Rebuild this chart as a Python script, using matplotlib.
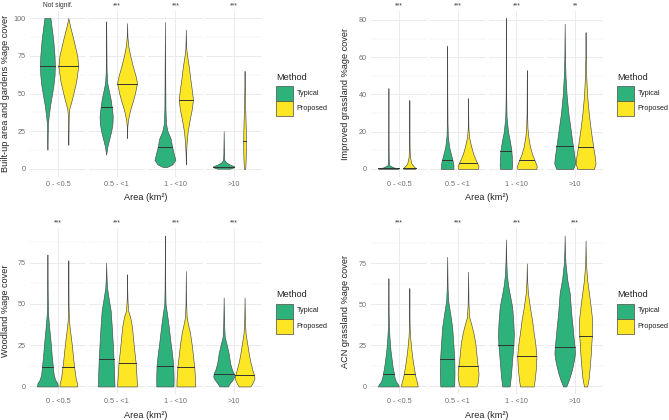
import matplotlib
matplotlib.use("Agg")
import matplotlib.pyplot as plt
from matplotlib.patches import Rectangle
import numpy as np

plt.rcParams["font.family"] = ["Liberation Sans", "DejaVu Sans"]

# ── Data ─────────────────────────────────────────────────────────────────────
AREA_CLASSES = ["0 - <0.5", "0.5 - <1", "1 - <10", ">10"]
METHODS = ["Typical", "Proposed"]

# violin outlines: (%cover, relative half-width) per area class
BUILT_TYP = [
    [(12.8, 0), (20, 0.02), (30, 0.05), (35, 0.12), (42, 0.25), (50, 0.45), (55, 0.57),
     (62, 0.68), (68, 0.71), (75, 0.68), (86, 0.55), (95, 0.38), (100, 0.29)],
    [(9.5, 0), (15, 0.12), (20, 0.3), (25, 0.48), (30, 0.6), (35, 0.63), (40, 0.55),
     (46, 0.43), (52, 0.25), (57, 0.1), (65, 0.04), (80, 0.02), (97.8, 0)],
    [(1.3, 0.2), (3, 0.7), (6, 1.0), (10, 0.85), (15, 0.68), (20, 0.55), (25, 0.25),
     (30, 0.1), (40, 0.05), (60, 0.03), (97.4, 0)],
    [(0.2, 0.6), (1, 0.95), (1.8, 1.0), (3, 0.55), (4.5, 0.2), (6, 0.06), (10, 0.03), (25, 0)],
]
BUILT_PRO = [
    [(16, 0), (25, 0.02), (35, 0.04), (40, 0.1), (45, 0.3), (50, 0.48), (58, 0.75),
     (68, 0.95), (75, 0.85), (86, 0.48), (95, 0.15), (100, 0)],
    [(20.5, 0), (28, 0.02), (32, 0.08), (38, 0.25), (45, 0.55), (50, 0.75), (57, 0.95),
     (62, 0.8), (68, 0.55), (75, 0.3), (82, 0.1), (88, 0.03), (96.7, 0)],
    [(3, 0), (10, 0.02), (18, 0.08), (25, 0.18), (32, 0.35), (40, 0.58), (46, 0.68),
     (52, 0.58), (60, 0.42), (68, 0.28), (75, 0.12), (80, 0.04), (92.3, 0)],
    [(0, 0.06), (5, 0.1), (10, 0.12), (18, 0.13), (25, 0.12), (35, 0.08), (45, 0.04),
     (55, 0.02), (65, 0)],
]
BUILT_MED_TYP = [68, 41, 14.5, 1.5]
BUILT_MED_PRO = [68, 56, 46, 18.8]
BUILT_SIG = ["Not signif.", "***", "***", "***"]

IMPROVED_TYP = [
    [(0, 0.9), (0.3, 1.0), (0.8, 0.5), (2, 0.08), (5, 0.03), (15, 0.01), (43.4, 0)],
    [(0, 0.6), (2, 0.6), (5, 0.5), (8, 0.35), (12, 0.18), (18, 0.06), (25, 0.03),
     (40, 0.01), (66, 0)],
    [(0, 0.55), (2, 0.6), (6, 0.57), (10, 0.52), (15, 0.38), (20, 0.2), (28, 0.06),
     (40, 0.02), (81, 0)],
    [(0, 0.8), (3, 1.0), (6, 0.95), (10, 0.85), (15, 0.72), (20, 0.6), (30, 0.35),
     (40, 0.18), (50, 0.08), (60, 0.03), (78, 0)],
]
IMPROVED_PRO = [
    [(0, 0.55), (0.5, 0.6), (1.5, 0.4), (3, 0.2), (6, 0.08), (10, 0.03), (20, 0.01), (37, 0)],
    [(0, 0.95), (1.5, 1.0), (4, 0.8), (8, 0.5), (12, 0.3), (17, 0.1), (22, 0.03),
     (30, 0.01), (38, 0)],
    [(0, 0.9), (1.5, 0.95), (5, 0.72), (8, 0.5), (12, 0.3), (17, 0.15), (22, 0.06),
     (30, 0.02), (53, 0)],
    [(0, 0.8), (3, 0.95), (6, 0.9), (10, 0.78), (15, 0.65), (20, 0.52), (30, 0.3),
     (40, 0.14), (50, 0.06), (60, 0.02), (73.4, 0)],
]
IMPROVED_MED_TYP = [0.3, 5, 9.5, 12.5]
IMPROVED_MED_PRO = [0.5, 3.3, 4.8, 12]
IMPROVED_SIG = ["***", "***", "***", "**"]

WOOD_TYP = [
    [(0, 1.0), (2, 0.95), (4, 0.75), (7, 0.6), (12, 0.52), (18, 0.42), (26, 0.32),
     (35, 0.18), (44, 0.06), (55, 0.03), (70, 0.01), (80, 0)],
    [(0, 0.8), (3, 0.78), (10, 0.75), (16.5, 0.71), (26, 0.63), (35, 0.55), (46, 0.43),
     (53, 0.25), (60, 0.08), (67, 0.03), (75, 0)],
    [(0, 0.82), (5, 0.83), (12.5, 0.8), (20, 0.68), (26, 0.55), (36, 0.37), (44, 0.2),
     (50, 0.06), (60, 0.03), (75, 0.01), (91.5, 0)],
    [(0, 0.4), (2, 0.6), (4, 0.85), (6, 1.0), (8, 0.95), (10, 0.8), (14, 0.62),
     (20, 0.48), (25, 0.3), (30, 0.1), (38, 0.04), (54, 0)],
]
WOOD_PRO = [
    [(0, 0.85), (2, 0.83), (5, 0.7), (12, 0.55), (18, 0.45), (26, 0.32), (33, 0.18),
     (40, 0.06), (50, 0.02), (76.5, 0)],
    [(0, 0.95), (3, 0.93), (8, 0.88), (14.5, 0.82), (20, 0.72), (26, 0.62), (36, 0.47),
     (42, 0.3), (46, 0.1), (52, 0.04), (60, 0.01), (68, 0)],
    [(0, 0.9), (5, 0.88), (12, 0.8), (20, 0.66), (26, 0.55), (33, 0.38), (38, 0.2),
     (42, 0.08), (50, 0.03), (70, 0)],
    [(0, 0.55), (2, 0.75), (5, 0.95), (8, 0.85), (10, 0.75), (15, 0.55), (20, 0.4),
     (26, 0.25), (32, 0.1), (38, 0.04), (54, 0)],
]
WOOD_MED_TYP = [11.5, 16.5, 12.5, 7.5]
WOOD_MED_PRO = [11.5, 14.5, 12, 7]
WOOD_SIG = ["***", "***", "***", "***"]

ACN_TYP = [
    [(0, 1.0), (1.5, 0.9), (3, 0.72), (5, 0.6), (8, 0.52), (12, 0.4), (16, 0.32),
     (22, 0.2), (30, 0.1), (36, 0.05), (45, 0.02), (66, 0)],
    [(0, 0.65), (2, 0.68), (8, 0.7), (16.5, 0.68), (25, 0.6), (36, 0.48), (44, 0.3),
     (52, 0.1), (60, 0.04), (79, 0)],
    [(0, 0.35), (5, 0.45), (10, 0.52), (18, 0.62), (25.5, 0.72), (32, 0.76), (40, 0.7),
     (48.7, 0.59), (55, 0.4), (62, 0.2), (69, 0.08), (78, 0.03), (89.6, 0)],
    [(0, 0.15), (4, 0.4), (8, 0.6), (12, 0.76), (17, 0.92), (20, 0.98), (24, 0.95),
     (30, 0.85), (36.5, 0.76), (45, 0.62), (57, 0.48), (65, 0.25), (75, 0.08),
     (82, 0.03), (92, 0)],
]
ACN_PRO = [
    [(0, 0.8), (2, 0.75), (5, 0.62), (8, 0.52), (12, 0.42), (16, 0.32), (22, 0.2),
     (30, 0.08), (36, 0.03), (45, 0.01), (60, 0)],
    [(0, 0.8), (2, 0.9), (5, 0.97), (8, 1.0), (12.3, 0.92), (18, 0.82), (26, 0.7),
     (33, 0.5), (38, 0.3), (42, 0.12), (50, 0.04), (70, 0)],
    [(0, 0.65), (4, 0.75), (10, 0.85), (18.3, 0.92), (26, 0.81), (33, 0.65),
     (40.5, 0.5), (48, 0.3), (57, 0.1), (65, 0.03), (75, 0)],
    [(0, 0.15), (5, 0.3), (12, 0.4), (20, 0.5), (26, 0.55), (30.5, 0.6), (40.5, 0.63),
     (48, 0.5), (57, 0.32), (65, 0.15), (72, 0.07), (77, 0.03), (89, 0)],
]
ACN_MED_TYP = [7.7, 16.5, 25.5, 24]
ACN_MED_PRO = [7.3, 12.3, 18.3, 30.5]
ACN_SIG = ["***", "***", "***", "***"]

# ── Style / layout ───────────────────────────────────────────────────────────
C_TYP = "#2EB27C"
C_PRO = "#FDE725"
EDGE = "#4a4a4a"
GRID = "#ebebeb"
TICK_C = "#6e6e6e"
W, H = 669, 420
HALF = 0.225          # max half-width of one dodged violin (x units)
FACET_W, FACET_GAP = 55.75, 3.0

panels = [
    dict(ylabel="Built-up area and gardens %age cover", typ=BUILT_TYP, pro=BUILT_PRO,
         mt=BUILT_MED_TYP, mp=BUILT_MED_PRO, sig=BUILT_SIG,
         major=[0, 25, 50, 75, 100], minor=[12.5, 37.5, 62.5, 87.5],
         left=30, top=10.5, ylab_x=6, leg_x=276),
    dict(ylabel="Improved grassland %age cover", typ=IMPROVED_TYP, pro=IMPROVED_PRO,
         mt=IMPROVED_MED_TYP, mp=IMPROVED_MED_PRO, sig=IMPROVED_SIG,
         major=[0, 20, 40, 60, 80], minor=[10, 30, 50, 70],
         left=371, top=10.5, ylab_x=345, leg_x=617),
    dict(ylabel="Woodland %age cover", typ=WOOD_TYP, pro=WOOD_PRO,
         mt=WOOD_MED_TYP, mp=WOOD_MED_PRO, sig=WOOD_SIG,
         major=[0, 25, 50, 75], minor=[12.5, 37.5, 62.5, 87.5],
         left=30, top=228, ylab_x=6, leg_x=276),
    dict(ylabel="ACN grassland %age cover", typ=ACN_TYP, pro=ACN_PRO,
         mt=ACN_MED_TYP, mp=ACN_MED_PRO, sig=ACN_SIG,
         major=[0, 25, 50, 75], minor=[12.5, 37.5, 62.5, 87.5],
         left=371, top=228, ylab_x=345, leg_x=617),
]
PANEL_H = 166


def fx(px):
    return px / W


def fy(py):
    return 1 - py / H


def draw_violin(ax, pos, prof, med, color):
    y = np.array([p[0] for p in prof])
    w = np.array([p[1] for p in prof]) * HALF
    ax.fill_betweenx(y, pos - w, pos + w, facecolor=color, edgecolor=EDGE,
                     linewidth=0.45, zorder=3)
    wm = np.interp(med, y, w)
    ax.plot([pos - wm, pos + wm], [med, med], color="#333333", lw=0.7, zorder=4)


fig = plt.figure(figsize=(W / 100, H / 100), dpi=100)
fig.patch.set_facecolor("white")

for p in panels:
    ymax = max(max(pt[0] for pt in prof) for prof in p["typ"] + p["pro"])
    ylim = (-0.05 * ymax, 1.05 * ymax)
    for i, area in enumerate(AREA_CLASSES):
        x0 = p["left"] + i * (FACET_W + FACET_GAP)
        ax = fig.add_axes([fx(x0), fy(p["top"] + PANEL_H), FACET_W / W, PANEL_H / H])
        ax.set_xlim(0.4, 1.6)
        ax.set_ylim(*ylim)
        for s in ax.spines.values():
            s.set_visible(False)
        ax.set_xticks([1])
        ax.set_xticklabels([area], fontsize=5.2, color=TICK_C)
        ax.set_yticks(p["major"])
        ax.set_yticks(p["minor"], minor=True)
        if i == 0:
            ax.set_yticklabels([str(v) for v in p["major"]], fontsize=5.2, color=TICK_C)
        else:
            ax.set_yticklabels([])
        ax.tick_params(length=0, pad=3)
        ax.tick_params(which="minor", length=0)
        ax.grid(True, which="major", color=GRID, lw=0.7, zorder=0)
        ax.grid(True, which="minor", axis="y", color=GRID, lw=0.35, zorder=0)
        ax.set_axisbelow(True)
        draw_violin(ax, 1 - HALF, p["typ"][i], p["mt"][i], C_TYP)
        draw_violin(ax, 1 + HALF, p["pro"][i], p["mp"][i], C_PRO)
        ax.set_title(p["sig"][i], fontsize=4.8, color="#333333", pad=2.5)

    facets_w = 4 * FACET_W + 3 * FACET_GAP
    xc = p["left"] + facets_w / 2
    fig.text(fx(xc), fy(p["top"] + 187.5), "Area (km²)", fontsize=6.6,
             ha="center", va="center", color="#222222")
    fig.text(fx(p["ylab_x"]), fy(p["top"] + PANEL_H / 2), p["ylabel"],
             fontsize=6.6, rotation=90, ha="center", va="center", color="#222222")

    # legend: title + two stacked keys
    lx, ty = p["leg_x"], p["top"]
    fig.text(fx(lx), fy(ty + 66.5), "Method", fontsize=6.6, ha="left", va="center",
             color="#222222")
    for k, (name, col) in enumerate(zip(METHODS, [C_TYP, C_PRO])):
        y_top = ty + 75.5 + k * 15
        fig.patches.append(Rectangle((fx(lx), fy(y_top + 15)), 17 / W, 15 / H,
                                     transform=fig.transFigure, facecolor=col,
                                     edgecolor=EDGE, linewidth=0.5))
        fig.text(fx(lx + 20.5), fy(y_top + 7.5), name, fontsize=5.2, ha="left",
                 va="center", color="#222222")

fig.savefig("out.png", dpi=100, facecolor="white")
